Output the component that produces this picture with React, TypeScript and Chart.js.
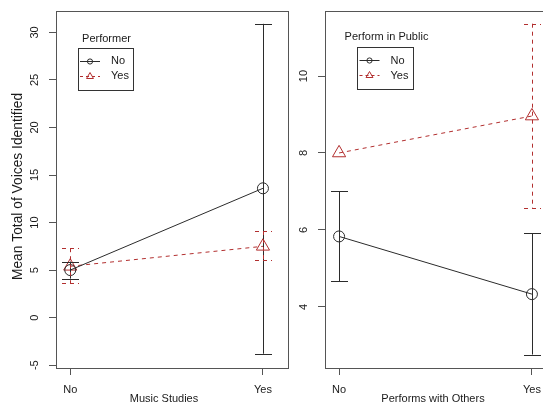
import React, { useEffect, useRef } from "react";
import { Chart, registerables } from "chart.js";

Chart.register(...registerables);

// ---------- data ----------
const groupLabels = ["No", "Yes"];
const seriesNames = ["No", "Yes"];

// Left panel: Music Studies x Performer
const leftYTicks = [-5, 0, 5, 10, 15, 20, 25, 30];
const perfNoMean = [5.0, 13.6];
const perfNoLow = [4.1, -3.8];
const perfNoHigh = [5.9, 30.9];
const perfYesMean = [5.4, 7.5];
const perfYesLow = [3.6, 6.05];
const perfYesHigh = [7.3, 9.1];

// Right panel: Performs with Others x Perform in Public
const rightYTicks = [4, 6, 8, 10];
const pubNoMean = [5.83, 4.33];
const pubNoLow = [4.67, 2.76];
const pubNoHigh = [7.0, 5.91];
const pubYesMean = [8.0, 8.96];
const pubYesLow: (number | null)[] = [null, 6.56];
const pubYesHigh: (number | null)[] = [null, 11.36];

// ---------- styles ----------
const BLACK = "#2b2b2b";
const RED = "#b22f2f";
const DASH = [4, 4];
const FONT = "'Liberation Sans', Arial, Helvetica, sans-serif";

type Series = {
  name: string;
  mean: number[];
  low: (number | null)[];
  high: (number | null)[];
  color: string;
  dash: number[];
  pointStyle: "circle" | "triangle";
  radius: number;
};

type Panel = {
  series: Series[];
  yTicks: number[];
  yMin: number;
  yMax: number;
  xMin: number;
  xMax: number;
  xTitle: string;
  yTitle?: string;
  legendTitle: string;
  legendBox: { left: number; top: number; width: number; height: number };
  legendTitleY: number;
  canvasLeft: number;
  canvasWidth: number;
  yAxisWidth: number;
  padRight: number;
};

function makeSeries(panelIdx: number): Series[] {
  if (panelIdx === 0) {
    return [
      { name: seriesNames[0], mean: perfNoMean, low: perfNoLow, high: perfNoHigh, color: BLACK, dash: [], pointStyle: "circle", radius: 5.5 },
      { name: seriesNames[1], mean: perfYesMean, low: perfYesLow, high: perfYesHigh, color: RED, dash: DASH, pointStyle: "triangle", radius: 7.6 },
    ];
  }
  return [
    { name: seriesNames[0], mean: pubNoMean, low: pubNoLow, high: pubNoHigh, color: BLACK, dash: [], pointStyle: "circle", radius: 5.5 },
    { name: seriesNames[1], mean: pubYesMean, low: pubYesLow, high: pubYesHigh, color: RED, dash: DASH, pointStyle: "triangle", radius: 7.6 },
  ];
}

const panels: Panel[] = [
  {
    series: makeSeries(0),
    yTicks: leftYTicks,
    yMin: -5.3,
    yMax: 32.25,
    xMin: -0.074,
    xMax: 1.13,
    xTitle: "Music Studies",
    yTitle: "Mean Total of Voices Identified",
    legendTitle: "Performer",
    legendBox: { left: 77.5, top: 47.5, width: 55, height: 41.5 },
    legendTitleY: 39,
    canvasLeft: 0,
    canvasWidth: 290,
    yAxisWidth: 56,
    padRight: 2,
  },
  {
    series: makeSeries(1),
    yTicks: rightYTicks,
    yMin: 2.41,
    yMax: 11.69,
    xMin: -0.073,
    xMax: 1.13,
    xTitle: "Performs with Others",
    legendTitle: "Perform in Public",
    legendBox: { left: 357, top: 47, width: 56, height: 41.5 },
    legendTitleY: 37,
    canvasLeft: 290,
    canvasWidth: 270,
    yAxisWidth: 35,
    padRight: 3,
  },
];

const H = 405;
const TOP = 11;
const XAXIS_H = 37;

function drawMarker(ctx: CanvasRenderingContext2D, style: string, x: number, y: number, r: number, color: string) {
  ctx.save();
  ctx.strokeStyle = color;
  ctx.lineWidth = 1;
  ctx.setLineDash([]);
  ctx.beginPath();
  if (style === "circle") {
    ctx.arc(x, y, r, 0, Math.PI * 2);
  } else {
    const w = r * Math.sqrt(3) / 2;
    ctx.moveTo(x, y - r);
    ctx.lineTo(x + w, y + r / 2);
    ctx.lineTo(x - w, y + r / 2);
    ctx.closePath();
  }
  ctx.stroke();
  ctx.restore();
}

function buildChart(canvas: HTMLCanvasElement, p: Panel) {
  const decor = {
    id: "rDecor",
    afterDatasetsDraw(chart: any) {
      const ctx: CanvasRenderingContext2D = chart.ctx;
      const xs = chart.scales.x;
      const ys = chart.scales.y;
      // error bars
      p.series.forEach((s) => {
        ctx.save();
        ctx.strokeStyle = s.color;
        ctx.lineWidth = 1;
        ctx.setLineDash(s.dash);
        s.mean.forEach((_, i) => {
          const lo = s.low[i];
          const hi = s.high[i];
          if (lo == null || hi == null) return;
          const x = Math.round(xs.getPixelForValue(i)) + 0.5;
          const yl = ys.getPixelForValue(lo);
          const yh = ys.getPixelForValue(hi);
          ctx.beginPath();
          ctx.moveTo(x, yh);
          ctx.lineTo(x, yl);
          ctx.moveTo(x - 8.5, Math.round(yh) + 0.5);
          ctx.lineTo(x + 8.5, Math.round(yh) + 0.5);
          ctx.moveTo(x - 8.5, Math.round(yl) + 0.5);
          ctx.lineTo(x + 8.5, Math.round(yl) + 0.5);
          ctx.stroke();
        });
        ctx.restore();
      });
    },
    afterDraw(chart: any) {
      const ctx: CanvasRenderingContext2D = chart.ctx;
      const a = chart.chartArea;
      const xs = chart.scales.x;
      const ys = chart.scales.y;
      ctx.save();
      // box
      ctx.strokeStyle = "#555";
      ctx.lineWidth = 1;
      ctx.setLineDash([]);
      ctx.strokeRect(Math.round(a.left) + 0.5, Math.round(a.top) + 0.5, Math.round(a.right - a.left), Math.round(a.bottom - a.top));
      ctx.fillStyle = "#1a1a1a";
      // y tick labels (rotated)
      ctx.font = `11px ${FONT}`;
      ctx.textAlign = "center";
      ctx.textBaseline = "middle";
      ys.ticks.forEach((t: any) => {
        const y = ys.getPixelForValue(t.value);
        ctx.save();
        ctx.translate(a.left - 21, y);
        ctx.rotate(-Math.PI / 2);
        ctx.fillText(String(t.value), 0, 0);
        ctx.restore();
      });
      // x tick labels
      xs.ticks.forEach((t: any) => {
        const x = xs.getPixelForValue(t.value);
        ctx.fillText(groupLabels[t.value], x, a.bottom + 21.5);
      });
      // x title
      ctx.textBaseline = "alphabetic";
      ctx.fillText(p.xTitle, a.left + 108, 401.5);
      // y title
      if (p.yTitle) {
        ctx.save();
        ctx.font = `13.8px ${FONT}`;
        ctx.textBaseline = "middle";
        ctx.translate(18 - p.canvasLeft, 186.5);
        ctx.rotate(-Math.PI / 2);
        ctx.fillText(p.yTitle, 0, 0);
        ctx.restore();
      }
      // legend
      const lb = p.legendBox;
      const L = lb.left - p.canvasLeft;
      ctx.font = `11px ${FONT}`;
      ctx.textBaseline = "middle";
      ctx.textAlign = "center";
      ctx.fillText(p.legendTitle, L + lb.width / 2 + 1.5, p.legendTitleY);
      ctx.strokeStyle = "#333";
      ctx.strokeRect(Math.round(L) + 0.5, Math.round(lb.top) + 0.5, Math.round(lb.width), Math.round(lb.height));
      ctx.textAlign = "left";
      p.series.forEach((s, i) => {
        const y = lb.top + 13 + i * 15.3;
        ctx.save();
        ctx.strokeStyle = s.color;
        ctx.setLineDash(s.dash.length ? [3, 3] : []);
        ctx.beginPath();
        ctx.moveTo(L + 2.5, Math.round(y) + 0.5);
        ctx.lineTo(L + 22.5, Math.round(y) + 0.5);
        ctx.stroke();
        ctx.restore();
        drawMarker(ctx, s.pointStyle, L + 12.5, Math.round(y) + 0.5, s.pointStyle === "circle" ? 2.6 : 4, s.color);
        ctx.fillStyle = "#1a1a1a";
        ctx.fillText(s.name, L + 33.5, y + 0.5);
      });
      ctx.restore();
    },
  };

  return new Chart(canvas, {
    type: "line",
    data: {
      datasets: p.series.map((s) => ({
        label: s.name,
        data: s.mean.map((v, i) => ({ x: i, y: v })),
        borderColor: s.color,
        borderWidth: 1,
        borderDash: s.dash,
        pointStyle: s.pointStyle,
        pointRadius: s.radius,
        pointBorderColor: s.color,
        pointBackgroundColor: "rgba(0,0,0,0)",
        pointBorderWidth: 1,
        tension: 0,
        fill: false,
        clip: false,
      })),
    },
    options: {
      animation: false,
      responsive: false,
      devicePixelRatio: 1,
      layout: { autoPadding: false, padding: { top: TOP, right: p.padRight, left: 0, bottom: 0 } },
      plugins: { legend: { display: false }, tooltip: { enabled: false }, title: { display: false } },
      scales: {
        x: {
          type: "linear",
          min: p.xMin,
          max: p.xMax,
          afterBuildTicks: (sc: any) => {
            sc.ticks = groupLabels.map((_, i) => ({ value: i }));
          },
          afterFit: (sc: any) => {
            sc.height = XAXIS_H;
          },
          ticks: { display: false },
          grid: { display: true, drawOnChartArea: false, drawTicks: true, tickLength: 7, color: "#555", lineWidth: 1 },
          border: { display: false },
        },
        y: {
          type: "linear",
          min: p.yMin,
          max: p.yMax,
          afterBuildTicks: (sc: any) => {
            sc.ticks = p.yTicks.map((v) => ({ value: v }));
          },
          afterFit: (sc: any) => {
            sc.width = p.yAxisWidth;
          },
          ticks: { display: false },
          grid: { display: true, drawOnChartArea: false, drawTicks: true, tickLength: 7, color: "#555", lineWidth: 1 },
          border: { display: false },
        },
      },
    } as any,
    plugins: [decor],
  });
}

function PanelChart({ p }: { p: Panel }) {
  const ref = useRef<HTMLCanvasElement | null>(null);
  useEffect(() => {
    if (!ref.current) return;
    const chart = buildChart(ref.current, p);
    return () => chart.destroy();
  }, [p]);
  return (
    <canvas
      ref={ref}
      width={p.canvasWidth}
      height={H}
      style={{ position: "absolute", left: p.canvasLeft, top: 0, width: p.canvasWidth, height: H }}
    />
  );
}

export default function App() {
  return (
    <div
      style={{
        position: "fixed",
        left: 0,
        top: 0,
        width: 543,
        height: 405,
        overflow: "hidden",
        background: "#ffffff",
      }}
    >
      {panels.map((p, i) => (
        <PanelChart key={i} p={p} />
      ))}
    </div>
  );
}
